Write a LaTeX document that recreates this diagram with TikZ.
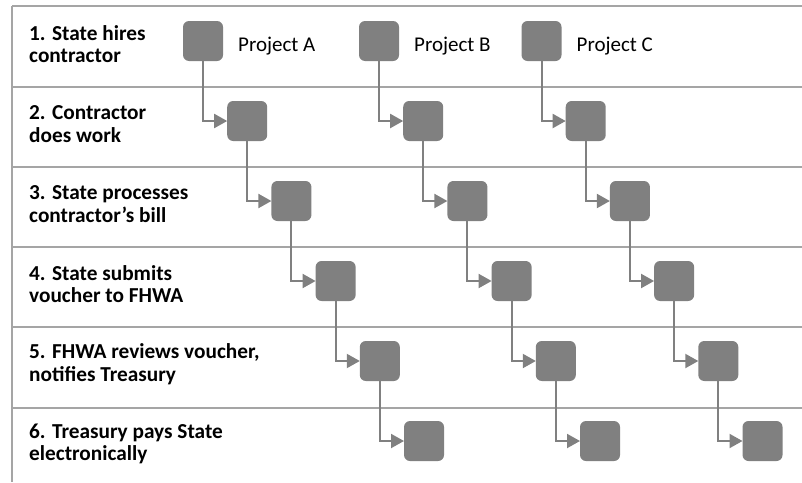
\documentclass[tikz,border=0pt]{standalone}
\usepackage{fontspec}
\setmainfont{Carlito}
\usetikzlibrary{positioning,arrows.meta}
\definecolor{boxgray}{RGB}{128,128,128}
\definecolor{linegray}{RGB}{165,165,165}

\begin{document}
\begin{tikzpicture}[x=1pt, y=-1pt,
        step_node/.style={rectangle, rounded corners=6pt, fill=boxgray, minimum size=40pt, inner sep=0pt, outer sep=0pt},
        flow_arrow/.style={draw=boxgray, line width=2pt, -{Triangle[length=13pt, width=14pt]}},
        row_label/.style={anchor=west, align=left, inner sep=0pt, font=\fontsize{21.3}{22.5}\selectfont\bfseries},
        proj_label/.style={inner sep=0pt, font=\fontsize{21}{25}\selectfont, yshift=-5pt}
        ]
            \useasboundingbox (0,0) rectangle (802,482);

            % rows
            \draw[linegray, line width=1.5pt] (12,6) -- (802,6);
            \draw[linegray, line width=1.5pt] (12,87) -- (802,87);
            \draw[linegray, line width=1.5pt] (12,167) -- (802,167);
            \draw[linegray, line width=1.5pt] (12,247) -- (802,247);
            \draw[linegray, line width=1.5pt] (12,327) -- (802,327);
            \draw[linegray, line width=1.5pt] (12,408) -- (802,408);
            \draw[linegray, line width=1.5pt] (12,6) -- (12,482);

            % row text
            \node[row_label] (row_1) at (29,44)  {1. State hires\\contractor};
            \node[row_label] (row_2) at (29,124) {2. Contractor\\does work};
            \node[row_label] (row_3) at (29,204) {3. State processes\\contractor’s bill};
            \node[row_label] (row_4) at (29,284) {4. State submits\\voucher to FHWA};
            \node[row_label] (row_5) at (29,364) {5. FHWA reviews voucher,\\notifies Treasury};
            \node[row_label] (row_6) at (29,444) {6. Treasury pays State\\electronically};

            % project A
            \node[step_node]    (proj_a_1)   at (203,41)                                  {};
            \node[step_node]    (proj_a_2)   [below right = 40pt and 4.2pt of proj_a_1]   {};
            \node[step_node]    (proj_a_3)   [below right = 40pt and 4.2pt of proj_a_2]   {};
            \node[step_node]    (proj_a_4)   [below right = 40pt and 4.2pt of proj_a_3]   {};
            \node[step_node]    (proj_a_5)   [below right = 40pt and 4.2pt of proj_a_4]   {};
            \node[step_node]    (proj_a_6)   [below right = 40pt and 4.2pt of proj_a_5]   {};
            % project B
            \node[step_node]    (proj_b_1)   at (379,41)                                  {};
            \node[step_node]    (proj_b_2)   [below right = 40pt and 4.2pt of proj_b_1]   {};
            \node[step_node]    (proj_b_3)   [below right = 40pt and 4.2pt of proj_b_2]   {};
            \node[step_node]    (proj_b_4)   [below right = 40pt and 4.2pt of proj_b_3]   {};
            \node[step_node]    (proj_b_5)   [below right = 40pt and 4.2pt of proj_b_4]   {};
            \node[step_node]    (proj_b_6)   [below right = 40pt and 4.2pt of proj_b_5]   {};
            % project C
            \node[step_node]    (proj_c_1)   at (541.5,41)                                {};
            \node[step_node]    (proj_c_2)   [below right = 40pt and 4.2pt of proj_c_1]   {};
            \node[step_node]    (proj_c_3)   [below right = 40pt and 4.2pt of proj_c_2]   {};
            \node[step_node]    (proj_c_4)   [below right = 40pt and 4.2pt of proj_c_3]   {};
            \node[step_node]    (proj_c_5)   [below right = 40pt and 4.2pt of proj_c_4]   {};
            \node[step_node]    (proj_c_6)   [below right = 40pt and 4.2pt of proj_c_5]   {};

            % project names
            \node[proj_label]   (name_a)     [right = 15pt of proj_a_1]   {Project A};
            \node[proj_label]   (name_b)     [right = 15pt of proj_b_1]   {Project B};
            \node[proj_label]   (name_c)     [right = 15pt of proj_c_1]   {Project C};

            % arrows
            \draw[flow_arrow] (proj_a_1) |- (proj_a_2);
            \draw[flow_arrow] (proj_a_2) |- (proj_a_3);
            \draw[flow_arrow] (proj_a_3) |- (proj_a_4);
            \draw[flow_arrow] (proj_a_4) |- (proj_a_5);
            \draw[flow_arrow] (proj_a_5) |- (proj_a_6);
            \draw[flow_arrow] (proj_b_1) |- (proj_b_2);
            \draw[flow_arrow] (proj_b_2) |- (proj_b_3);
            \draw[flow_arrow] (proj_b_3) |- (proj_b_4);
            \draw[flow_arrow] (proj_b_4) |- (proj_b_5);
            \draw[flow_arrow] (proj_b_5) |- (proj_b_6);
            \draw[flow_arrow] (proj_c_1) |- (proj_c_2);
            \draw[flow_arrow] (proj_c_2) |- (proj_c_3);
            \draw[flow_arrow] (proj_c_3) |- (proj_c_4);
            \draw[flow_arrow] (proj_c_4) |- (proj_c_5);
            \draw[flow_arrow] (proj_c_5) |- (proj_c_6);
        \end{tikzpicture}
\end{document}
